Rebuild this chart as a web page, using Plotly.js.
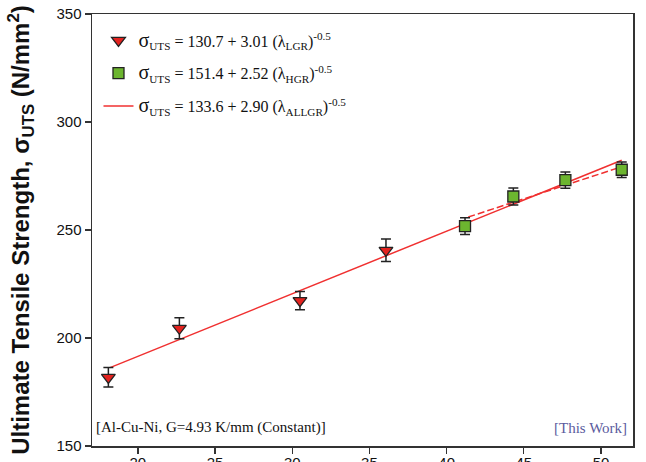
<!DOCTYPE html>
<html>
<head>
<meta charset="utf-8">
<script src="https://cdn.plot.ly/plotly-3.0.1.min.js"></script>
<style>html,body{margin:0;padding:0;background:#fff;}#chart{width:646px;height:462px;}</style>
</head>
<body>
<div id="chart"></div>
<script>
// Low growth rate (LGR) measurements
const lgrX = [18.09, 22.69, 30.5, 36.07];
const lgrY = [181.8, 204.5, 217.3, 240.6];
const lgrErr = [4.5, 4.9, 4.2, 5.2];
// High growth rate (HGR) measurements
const hgrX = [41.19, 44.32, 47.69, 51.34];
const hgrY = [251.8, 265.5, 273.1, 277.9];
const hgrErr = [3.9, 3.9, 3.8, 3.6];
// Fit line over all growth rates (endpoints)
const allFitX = [18.2, 51.34];
const allFitY = [186.3, 282.3];
// Fit line over HGR only (dashed)
const hgrFitX = [41.4, 51.34];
const hgrFitY = [256.0, 279.3];

const xTicks = [20, 25, 30, 35, 40, 45, 50];
const yTicks = [150, 200, 250, 300, 350];

const sig = '<span style="font-size:20px">σ</span>';
const names = [
  sig + '<sub>UTS</sub> = 130.7 + 3.01 (λ<sub>LGR</sub>)<sup>-0.5</sup>',
  sig + '<sub>UTS</sub> = 151.4 + 2.52 (λ<sub>HGR</sub>)<sup>-0.5</sup>',
  sig + '<sub>UTS</sub> = 133.6 + 2.90 (λ<sub>ALLGR</sub>)<sup>-0.5</sup>'
];

const errStyle = {type: 'data', visible: true, color: '#222', thickness: 1.5, width: 5};

const traces = [
  {
    x: hgrFitX, y: hgrFitY, mode: 'lines', showlegend: false, hoverinfo: 'skip',
    line: {color: '#f03030', width: 1.5, dash: '7px,3px'}
  },
  {
    x: allFitX, y: allFitY, mode: 'lines', name: names[2], legendgroup: 'c', legendrank: 3,
    line: {color: '#f03030', width: 1.5}
  },
  {
    x: lgrX, y: lgrY, mode: 'markers', name: names[0], legendgroup: 'a', legendrank: 1,
    marker: {symbol: 'triangle-down', size: 12, color: '#e4231f', line: {color: '#222', width: 1.3}},
    error_y: Object.assign({array: lgrErr}, errStyle)
  },
  {
    x: hgrX, y: hgrY, mode: 'markers', name: names[1], legendgroup: 'b', legendrank: 2,
    marker: {symbol: 'square', size: 11, color: '#6cb52f', line: {color: '#222', width: 1.3}},
    error_y: Object.assign({array: hgrErr}, errStyle)
  }
];

const layout = {
  width: 646, height: 462,
  margin: {l: 92, r: 13, t: 14, b: 16, pad: 0},
  paper_bgcolor: '#ffffff', plot_bgcolor: '#ffffff',
  font: {family: 'Liberation Sans, Arial, sans-serif', color: '#111'},
  showlegend: true,
  legend: {
    x: 0.012, y: 0.978, xanchor: 'left', yanchor: 'top',
    bgcolor: 'rgba(0,0,0,0)', borderwidth: 0,
    font: {family: 'Liberation Serif, Times New Roman, serif', size: 16, color: '#111'},
    traceorder: 'grouped', tracegroupgap: 9, itemwidth: 30
  },
  xaxis: {
    range: [17.03, 52.07], tickvals: xTicks, ticktext: xTicks.map(String),
    ticks: 'outside', ticklen: 6, tickwidth: 1.3, tickcolor: '#333',
    ticklabelstandoff: -4,
    showline: true, linecolor: '#333', linewidth: 1.5, mirror: true,
    showgrid: false, zeroline: false,
    tickfont: {family: 'Liberation Sans, Arial, sans-serif', size: 15, color: '#111'}
  },
  yaxis: {
    range: [150, 350], tickvals: yTicks, ticktext: yTicks.map(String),
    ticks: 'outside', ticklen: 6, tickwidth: 1.3, tickcolor: '#333',
    showline: true, linecolor: '#333', linewidth: 1.5, mirror: true,
    showgrid: false, zeroline: false,
    tickfont: {family: 'Liberation Sans, Arial, sans-serif', size: 15, color: '#111'},
    title: {
      text: '<b>Ultimate Tensile Strength, σ<sub>UTS</sub> (N/mm<sup>2</sup>)</b>',
      font: {family: 'Liberation Sans, Arial, sans-serif', size: 24, color: '#111'},
      standoff: 20
    }
  },
  annotations: [
    {
      xref: 'paper', yref: 'paper', x: 0.004, y: 0.018, xanchor: 'left', yanchor: 'bottom',
      text: '[Al-Cu-Ni, G=4.93 K/mm (Constant)]', showarrow: false,
      font: {family: 'Liberation Serif, Times New Roman, serif', size: 15, color: '#111'}
    },
    {
      xref: 'paper', yref: 'paper', x: 0.993, y: 0.018, xanchor: 'right', yanchor: 'bottom',
      text: '[This Work]', showarrow: false,
      font: {family: 'Liberation Serif, Times New Roman, serif', size: 15, color: '#5b5b9e'}
    }
  ]
};

Plotly.newPlot('chart', traces, layout, {staticPlot: true, displayModeBar: false});
</script>
</body>
</html>
